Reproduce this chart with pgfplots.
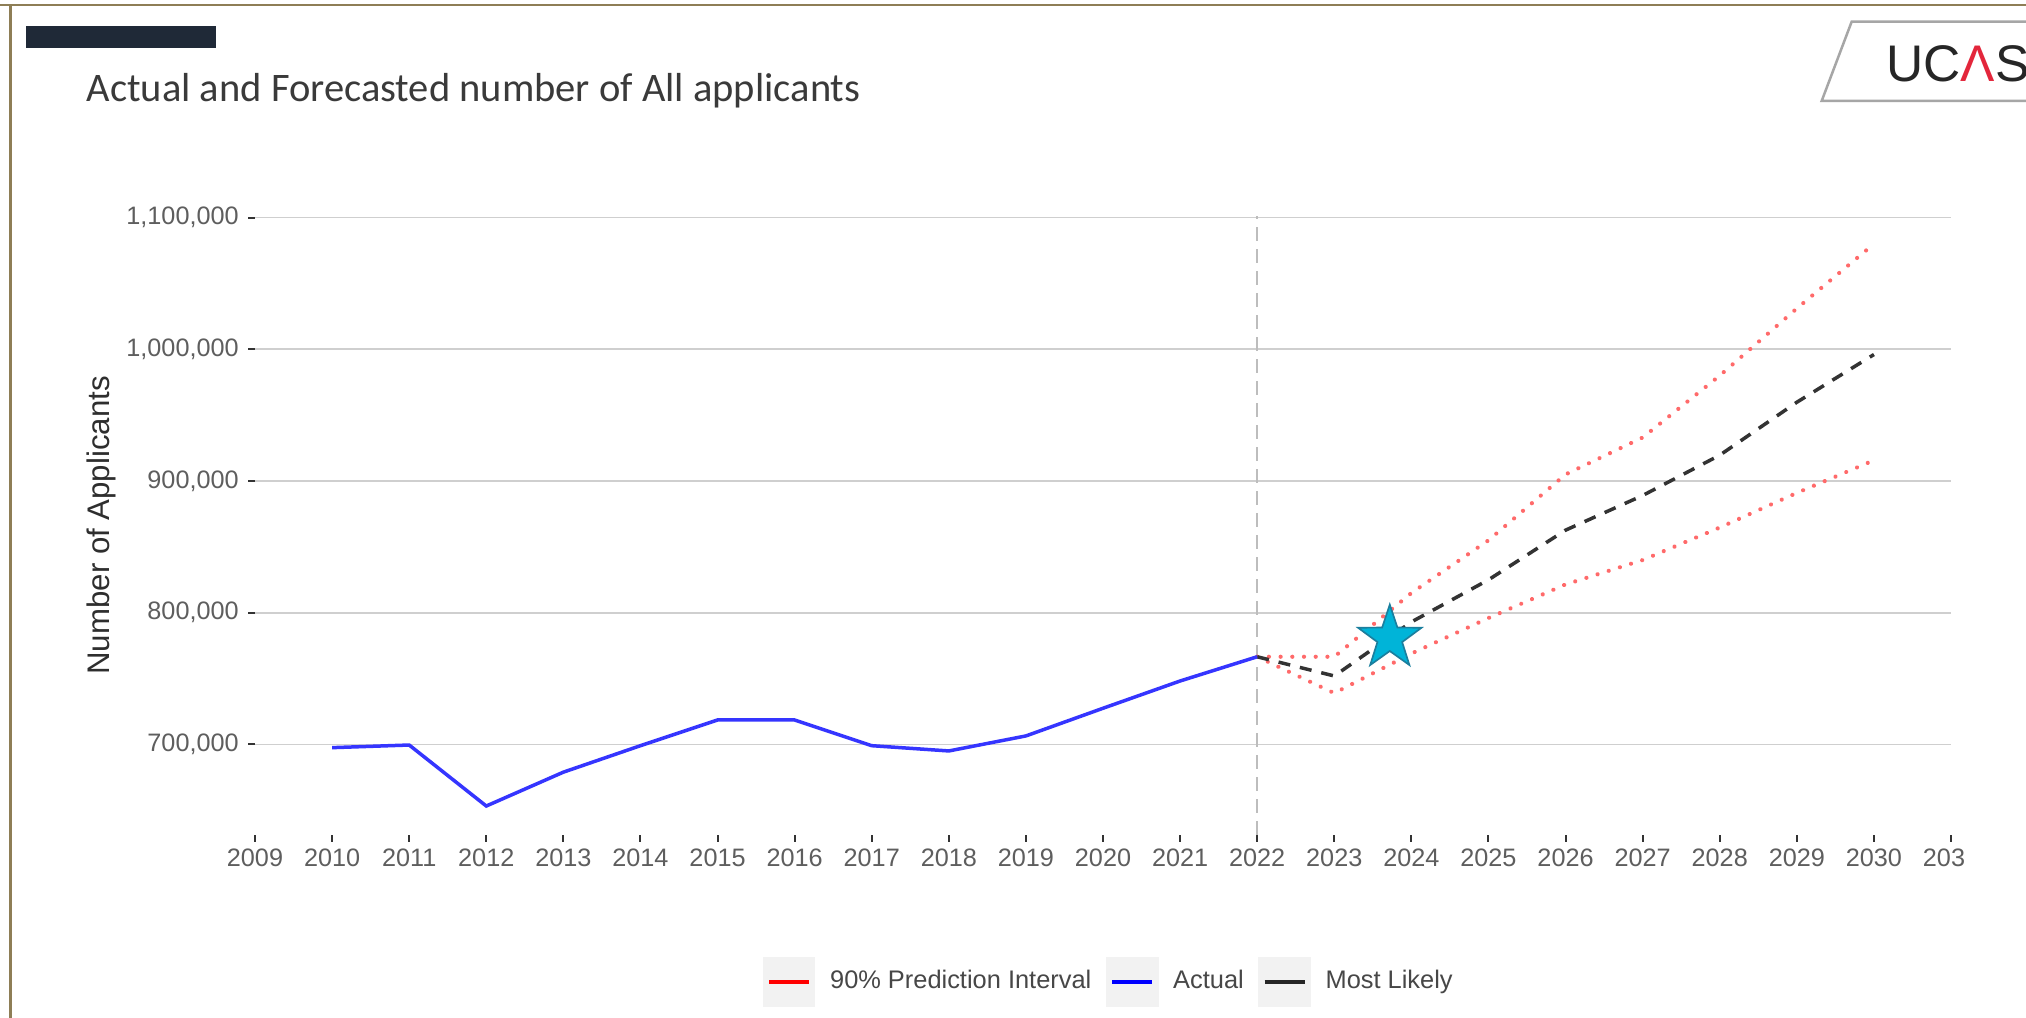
\documentclass[border=0pt]{standalone}
\usepackage{pgfplots}
\pgfplotsset{compat=1.18}
\usepackage{fontspec}
\setmainfont{Liberation Sans}
\newfontfamily\titlefont{Carlito}

\definecolor{borderc}{HTML}{8E7E56}
\definecolor{barc}{HTML}{1F2937}
\definecolor{titlec}{HTML}{3A3A3A}
\definecolor{tickgray}{HTML}{5E5E5E}
\definecolor{gridc}{HTML}{CFCFCF}
\definecolor{vlinec}{HTML}{BDBDBD}
\definecolor{actualc}{HTML}{3535FF}
\definecolor{intc}{HTML}{FF6A6A}
\definecolor{likelyc}{HTML}{333333}
\definecolor{starfill}{HTML}{00B4D8}
\definecolor{stardraw}{HTML}{1B7F9E}
\definecolor{keybg}{HTML}{F2F2F2}
\definecolor{logoline}{HTML}{A6A6A6}
\definecolor{ucasred}{HTML}{E3263B}

\pgfdeclareplotmark{fstar}{%
  \pgfpathmoveto{\pgfpointpolar{90}{\pgfplotmarksize}}%
  \pgfpathlineto{\pgfpointpolar{126}{0.39\pgfplotmarksize}}%
  \pgfpathlineto{\pgfpointpolar{162}{\pgfplotmarksize}}%
  \pgfpathlineto{\pgfpointpolar{198}{0.39\pgfplotmarksize}}%
  \pgfpathlineto{\pgfpointpolar{234}{\pgfplotmarksize}}%
  \pgfpathlineto{\pgfpointpolar{270}{0.39\pgfplotmarksize}}%
  \pgfpathlineto{\pgfpointpolar{306}{\pgfplotmarksize}}%
  \pgfpathlineto{\pgfpointpolar{342}{0.39\pgfplotmarksize}}%
  \pgfpathlineto{\pgfpointpolar{18}{\pgfplotmarksize}}%
  \pgfpathlineto{\pgfpointpolar{54}{0.39\pgfplotmarksize}}%
  \pgfpathclose
  \pgfusepathqfillstroke
}

\pgfplotstableread{
year value
2010 697600
2011 699600
2012 653300
2013 679000
2014 699100
2015 718600
2016 718600
2017 699100
2018 695100
2019 706500
2020 727500
2021 748200
2022 766600
}\actualdata

\pgfplotstableread{
year value
2022 766600
2023 752000
2024 793000
2025 825000
2026 862700
2027 889000
2028 919600
2029 959800
2030 996000
}\likelydata

\pgfplotstableread{
year value
2022 766600
2023 766600
2024 815000
2025 855000
2026 905000
2027 933000
2028 980000
2029 1031000
2030 1080000
}\upperdata

\pgfplotstableread{
year value
2022 766600
2023 739000
2024 769000
2025 796000
2026 821500
2027 840000
2028 864700
2029 891000
2030 915700
}\lowerdata

\begin{document}
\begin{tikzpicture}
\useasboundingbox (0,0) rectangle (607.8bp,305.1bp);
\clip (0,0) rectangle (607.8bp,305.1bp);
\fill[white] (0,0) rectangle (607.8bp,305.1bp);
\begin{scope}[x=0.3bp,y=-0.3bp,yshift=305.1bp]
  % frame
  \draw[borderc, line width=0.75bp] (0,5) -- (2030,5);
  \draw[borderc, line width=0.75bp] (10.7,5) -- (10.7,1020);
  % dark bar
  \fill[barc] (26,26) rectangle (216,48);
  % title
  \node[anchor=base west, inner sep=0pt, text=titlec, font=\titlefont\fontsize{12.2}{14}\selectfont] at (86,102) {Actual and Forecasted number of All applicants};
  % logo
  \draw[logoline, line width=0.75bp] (2040,21.7) -- (1851.7,21.7) -- (1821.7,101) -- (2040,101);
  \node[anchor=base west, inner sep=0pt, font=\fontsize{15.5}{16}\selectfont, text=black!85] at (1886,81.7) {UC\textcolor{ucasred}{Λ}S};
\end{scope}

\begin{axis}[
  at={(76.5bp,54.6bp)}, anchor=south west,
  scale only axis, width=508.8bp, height=185.79bp,
  xmin=2009, xmax=2031, ymin=631300, ymax=1101400,
  scaled y ticks=false, scaled x ticks=false,
  axis line style={draw=none},
  axis x line*=bottom, axis y line*=left,
  tick align=inside,
  major tick length=-2.2bp,
  tick style={color=likelyc, line width=0.6bp},
  xtick={2009,2010,2011,2012,2013,2014,2015,2016,2017,2018,2019,2020,2021,2022,2023,2024,2025,2026,2027,2028,2029,2030,2031},
  xticklabels={2009,2010,2011,2012,2013,2014,2015,2016,2017,2018,2019,2020,2021,2022,2023,2024,2025,2026,2027,2028,2029,2030,203\phantom{1}},
  ytick={700000,800000,900000,1000000,1100000},
  yticklabels={{700,000},{800,000},{900,000},{1,000,000},{1,100,000}},
  minor tick num=0,
  ymajorgrids, xmajorgrids=false,
  grid style={color=gridc, line width=0.55bp},
  /pgf/number format/assume math mode=true,
  ticklabel style={font=\fontsize{7.6}{9}\selectfont, text=tickgray, inner sep=0pt},
  xticklabel style={anchor=north, yshift=-3.9bp},
  yticklabel style={anchor=east, xshift=-4.7bp},
  ylabel={Number of Applicants},
  ylabel style={at={(axis description cs:-0.0908,0.5)}, anchor=center, rotate=0, font=\fontsize{9.4}{11}\selectfont, text=black!82},
  legend columns=3,
  legend cell align=left,
  legend style={at={(0.2995,-0.2372)}, anchor=west, draw=none, fill=none, inner sep=0pt, outer sep=0pt,
    font=\fontsize{7.65}{9}\selectfont, text=black!72,
    nodes={inner sep=0pt},
    column sep=0pt,
    /tikz/every even column/.append style={column sep=4.4bp}},
  legend image code/.code={%
    \fill[keybg] (0bp,-6.9bp) rectangle (14.7bp,6.9bp);
    \draw[#1] (1.3bp,0bp) -- (13.4bp,0bp);
    \path (19.1bp,0bp);
  },
]
\addplot[vlinec, line width=0.65bp, dash pattern=on 4.2bp off 2.4bp, forget plot] coordinates {(2022,631300) (2022,1101400)};
\addplot[intc, line width=1.25bp, line cap=round, dash pattern=on 0.01bp off 3.5bp, forget plot] table[x=year,y=value] {\upperdata};
\addplot[intc, line width=1.25bp, line cap=round, dash pattern=on 0.01bp off 3.5bp, forget plot] table[x=year,y=value] {\lowerdata};
\addplot[likelyc, line width=1.05bp, dash pattern=on 3.6bp off 3bp, forget plot] table[x=year,y=value] {\likelydata};
\addplot[actualc, line width=1.05bp, forget plot] table[x=year,y=value] {\actualdata};
\addplot[only marks, mark=fstar, mark size=10bp, mark options={fill=starfill, draw=stardraw, line width=0.5bp}, forget plot] coordinates {(2023.72,780800)};
\addlegendimage{red, line width=1.05bp}
\addlegendentry{90\% Prediction Interval}
\addlegendimage{blue, line width=1.05bp}
\addlegendentry{Actual}
\addlegendimage{black!85, line width=1.05bp}
\addlegendentry{Most Likely}
\end{axis}
\end{tikzpicture}
\end{document}
